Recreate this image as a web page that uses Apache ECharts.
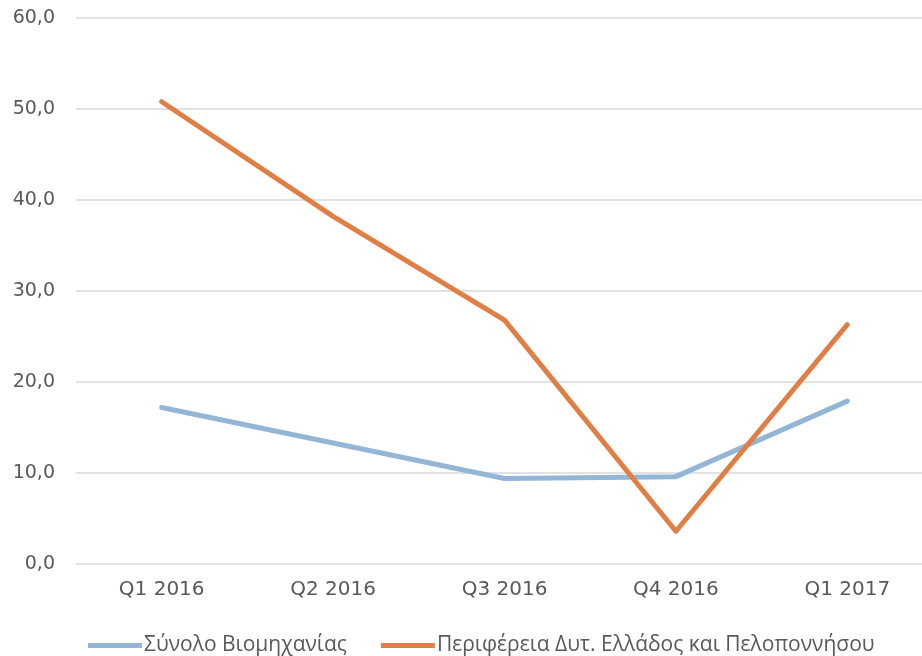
<!DOCTYPE html>
<html>
<head>
<meta charset="utf-8">
<script src="https://cdn.jsdelivr.net/npm/echarts@6/dist/echarts.min.js"></script>
<style>html,body{margin:0;padding:0;background:#fff;overflow:hidden;width:922px;height:656px}#c{width:933px;height:656px}</style>
</head>
<body>
<div id="c"></div>
<script>
const categories = ['Q1 2016', 'Q2 2016', 'Q3 2016', 'Q4 2016', 'Q1 2017'];
const seriesNames = ['Σύνολο Βιομηχανίας', 'Περιφέρεια Δυτ. Ελλάδος και Πελοποννήσου'];
const industryTotal = [17.2, 13.3, 9.4, 9.6, 17.9];
const westGreecePeloponnese = [50.8, 38.2, 26.8, 3.6, 26.3];
const yTicks = [0, 10, 20, 30, 40, 50, 60];

const chart = echarts.init(document.getElementById('c'));
const axisFont = '"DejaVu Sans", sans-serif';
const legendFont = '"Open Sans", sans-serif';
chart.setOption({
  animation: false,
  grid: { left: 76, top: 18, right: 0, bottom: 92, containLabel: false },
  legend: {
    left: 83, top: 630,
    itemWidth: 54, itemHeight: 5, itemGap: 34,
    icon: 'rect',
    textStyle: { color: '#595959', fontSize: 21, fontFamily: legendFont, padding: [0,0,0,-3] },
    data: seriesNames
  },
  xAxis: {
    type: 'category', data: categories, boundaryGap: true,
    axisLine: { show: false }, axisTick: { show: false },
    axisLabel: { color: '#595959', fontSize: 20, margin: 16, fontFamily: axisFont }
  },
  yAxis: {
    type: 'value', min: yTicks[0], max: yTicks[yTicks.length-1], interval: 10,
    axisLine: { show: false }, axisTick: { show: false },
    splitLine: { lineStyle: { color: '#d9d9d9', width: 1.5 } },
    axisLabel: { color: '#595959', fontSize: 19, margin: 21, fontFamily: axisFont,
      formatter: v => v.toFixed(1).replace('.', ',') }
  },
  series: [
    { name: seriesNames[0], type: 'line', data: industryTotal, showSymbol: false, symbol: 'none',
      lineStyle: { color: '#93b6d6', width: 5, cap: 'round', join: 'round' }, itemStyle: { color: '#93b6d6' } },
    { name: seriesNames[1], type: 'line', data: westGreecePeloponnese, showSymbol: false, symbol: 'none',
      lineStyle: { color: '#e07f45', width: 5, cap: 'round', join: 'round' }, itemStyle: { color: '#e07f45' } }
  ]
});
</script>
</body>
</html>
